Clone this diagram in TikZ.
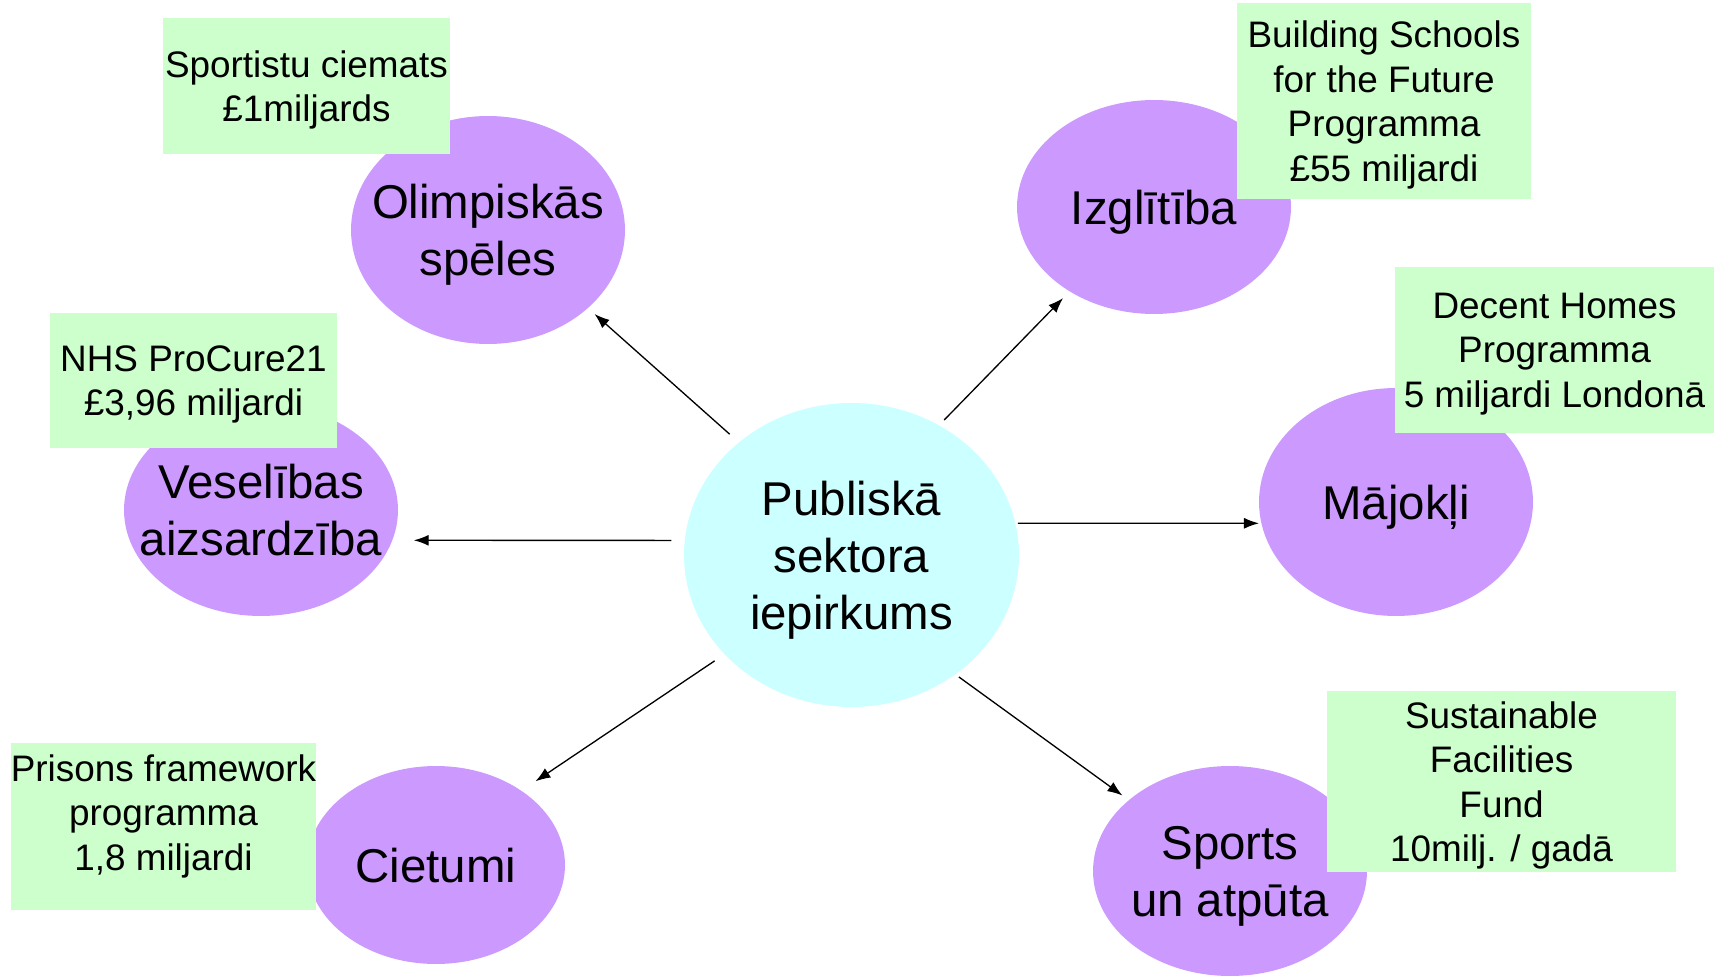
\documentclass[tikz,border=0pt]{standalone}
\usepackage{fontspec}
\setmainfont{Liberation Sans}
\usetikzlibrary{shapes.geometric}
\usetikzlibrary{arrows.meta}
\definecolor{lilac}{RGB}{204,153,255}
\definecolor{paleaqua}{RGB}{204,255,255}
\definecolor{palemint}{RGB}{204,255,204}

\begin{document}
\begin{tikzpicture}[x=0.02cm, y=-0.02cm,
  bigtext/.style={font=\fontsize{27}{32.5}\selectfont, align=center, text depth=0pt},
  bubble/.style={ellipse, fill=lilac, inner sep=0pt, outer sep=0pt, minimum width=5.48cm, label={[bigtext]center:#1}},
  notebox/.style={rectangle, fill=palemint, inner sep=0pt, outer sep=0pt, font=\fontsize{21}{25.3}\selectfont, align=center, text depth=0pt},
  arr/.style={-{Latex[length=0.3cm,width=0.22cm]}, line width=0.75pt}]

\useasboundingbox (0,0) rectangle (1727,976);

% centre
\node[ellipse, fill=paleaqua, inner sep=0pt, outer sep=0pt, minimum width=6.7cm, minimum height=6.08cm, label={[bigtext]center:Publiskā\\sektora\\iepirkums}] (pub) at (851.5,555) {};

% sectors
\node[bubble={Olimpiskās\\spēles}, minimum height=4.56cm] (oly) at (488,230) {};
\node[bubble={Izglītība}, minimum height=4.28cm] (izg) at (1154,207) {};
\node[bubble={Veselības\\aizsardzība}, minimum height=4.24cm] (ves) at (261,510) {};
\node[bubble={Mājokļi}, minimum height=4.56cm] (maj) at (1396,502) {};
\node[bubble={Cietumi}, minimum width=5.16cm, minimum height=3.96cm] (cie) at (436,865) {};
\node[bubble={Sports\\un atpūta}, minimum height=4.2cm] (spo) at (1230,871) {};

% programmes
\node[notebox, minimum width=5.74cm, minimum height=2.72cm] (spc) at (306.5,86) {Sportistu ciemats\\£1miljards};
\node[notebox, minimum width=5.88cm, minimum height=3.92cm] (bsf) at (1384,101) {Building Schools\\for the Future\\Programma\\£55 miljardi};
\node[notebox, minimum width=5.74cm, minimum height=2.7cm] (nhs) at (193.5,380.5) {NHS ProCure21\\£3,96 miljardi};
\node[notebox, minimum width=6.38cm, minimum height=3.32cm] (dhp) at (1554.5,350) {Decent Homes\\Programma\\5 miljardi Londonā};
\node[notebox, minimum width=6.06cm, minimum height=3.34cm, text depth=0.57cm] (pfp) at (163.5,826.5) {Prisons framework\\programma\\1,8 miljardi};
\node[notebox, minimum width=6.98cm, minimum height=3.62cm] (sff) at (1501.5,781.5) {Sustainable\\Facilities\\Fund\\10milj. / gadā};

\draw[arr, shorten <=0.25cm, shorten >=0.18cm] (pub.135) -- (oly.-38); % olympics
\draw[arr, shorten <=0.15cm, shorten >=0.19cm] (pub.56) -- (izg.225); % education
\draw[arr, shorten <=0.27cm, shorten >=0.43cm] (pub.175) -- (ves.-13); % health
\draw[arr, shorten <=0.05cm, shorten >=0.05cm] (pub.11) -- (maj.189); % housing
\draw[arr, shorten <=0.24cm, shorten >=0.34cm] (pub.218) -- (cie.41); % prisons
\draw[arr, shorten <=0.09cm, shorten >=0.16cm] (pub.-49) -- (spo.145); % sport

\end{tikzpicture}
\end{document}
